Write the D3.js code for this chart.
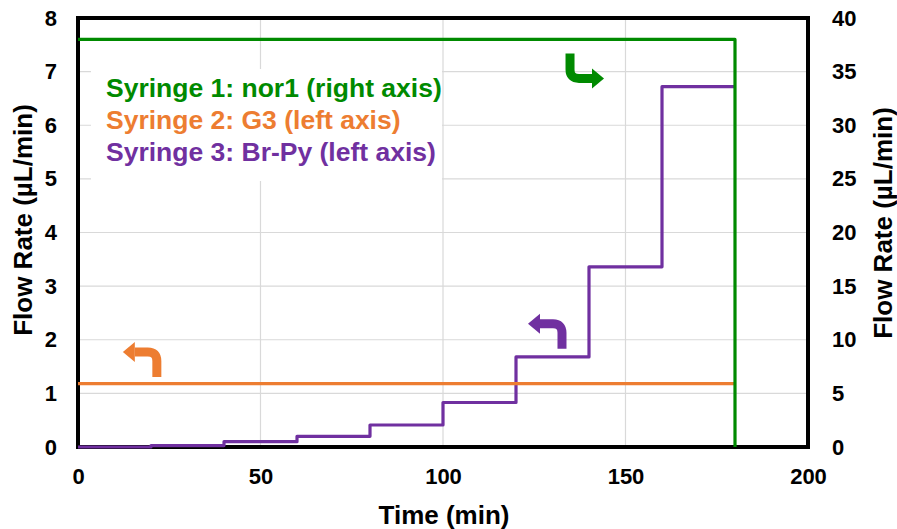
<!DOCTYPE html>
<html>
<head>
<meta charset="utf-8">
<script src="https://cdn.jsdelivr.net/npm/d3@7/dist/d3.min.js"></script>
<style>
  html, body { margin: 0; padding: 0; background: #fff; }
  svg { display: block; font-family: "Liberation Sans", Arial, sans-serif; font-weight: bold; }
</style>
</head>
<body>
<svg id="chart" width="897" height="529"></svg>
<script>
// Start time (min) of each 20-min Br-Py step; the last step ends at 180 min
const stepTimes = [0, 20, 40, 60, 80, 100, 120, 140, 160];
const stepEnd = 180;
// Syringe 3 (Br-Py) flow rate for each step, µL/min (left axis)
const brPyRates = [0, 0.026, 0.1, 0.2, 0.41, 0.83, 1.68, 3.36, 6.72];
// Syringe 2 (G3) constant flow rate, µL/min (left axis)
const g3Times = [0, 180];
const g3Rates = [1.18, 1.18];
// Syringe 1 (nor1) flow rate, µL/min (right axis), stopped at 180 min
const nor1Times = [0, 180, 180];
const nor1Rates = [38, 38, 0];

const xTicks = [0, 50, 100, 150, 200];
const leftTicks = [0, 1, 2, 3, 4, 5, 6, 7, 8];
const rightTicks = [0, 5, 10, 15, 20, 25, 30, 35, 40];

const legendLabels = ["Syringe 1: nor1 (right axis)", "Syringe 2: G3 (left axis)", "Syringe 3: Br-Py (left axis)"];
const colors = { nor1: "#008a00", g3: "#ED7D31", brPy: "#7030A0" };
const legendColors = [colors.nor1, colors.g3, colors.brPy];

// Axis-pointing arrows: stem end at (t, value on the given axis)
const arrows = [
  { t: 21.6, v: 1.305, axis: "left", vert: -1, horiz: -1, color: colors.g3 },
  { t: 132.6, v: 1.83, axis: "left", vert: -1, horiz: -1, color: colors.brPy },
  { t: 134.8, v: 36.7, axis: "right", vert: 1, horiz: 1, color: colors.nor1 }
];

const svg = d3.select("#chart");
const L = 78, R = 808, T = 18, B = 447;

const x = d3.scaleLinear().domain([0, 200]).range([L, R]);
const yL = d3.scaleLinear().domain([0, 8]).range([B, T]);
const yR = d3.scaleLinear().domain([0, 40]).range([B, T]);

// gridlines
const grid = svg.append("g").attr("stroke", "#d9d9d9").attr("stroke-width", 1.2);
grid.selectAll("line.h").data(leftTicks.filter(d => d > 0 && d < 8)).join("line")
  .attr("x1", L).attr("x2", R).attr("y1", d => yL(d)).attr("y2", d => yL(d));
grid.selectAll("line.v").data(xTicks.filter(d => d > 0 && d < 200)).join("line")
  .attr("y1", T).attr("y2", B).attr("x1", d => x(d)).attr("x2", d => x(d));

// legend backdrop
svg.append("rect").attr("x", 91).attr("y", 69).attr("width", 351).attr("height", 112).attr("fill", "#fff");

// frame
svg.append("rect").attr("x", L).attr("y", T).attr("width", R - L).attr("height", B - T)
  .attr("fill", "none").attr("stroke", "#000").attr("stroke-width", 4);

// series (drawn over the frame)
const stepLine = d3.line().curve(d3.curveStepAfter);
const brPyPts = stepTimes.map((t, i) => [x(t), yL(brPyRates[i])]);
brPyPts.push([x(stepEnd), yL(brPyRates[brPyRates.length - 1])]);
svg.append("path").attr("d", stepLine(brPyPts)).attr("fill", "none")
  .attr("stroke", colors.brPy).attr("stroke-width", 3.2).attr("stroke-linejoin", "round");

svg.append("path").attr("d", d3.line()(g3Times.map((t, i) => [x(t), yL(g3Rates[i])])))
  .attr("fill", "none").attr("stroke", colors.g3).attr("stroke-width", 3.2);

svg.append("path").attr("d", d3.line()(nor1Times.map((t, i) => [x(t), yR(nor1Rates[i])])))
  .attr("fill", "none").attr("stroke", colors.nor1).attr("stroke-width", 3.2).attr("stroke-linejoin", "round");

// axes (tick labels only; the frame forms the axis lines)
const fs = 22;
const axL = svg.append("g").attr("transform", `translate(${L - 8},0)`)
  .call(d3.axisLeft(yL).tickValues(leftTicks).tickSize(0).tickPadding(13));
const axR = svg.append("g").attr("transform", `translate(${R + 10},0)`)
  .call(d3.axisRight(yR).tickValues(rightTicks).tickSize(0).tickPadding(14));
const axB = svg.append("g").attr("transform", `translate(0,${B + 10})`)
  .call(d3.axisBottom(x).tickValues(xTicks).tickSize(0).tickPadding(11));
[axL, axR, axB].forEach(a => {
  a.select(".domain").remove();
  a.selectAll("text").attr("font-family", "Liberation Sans, Arial, sans-serif")
    .attr("font-weight", "bold").attr("font-size", fs).attr("fill", "#000");
});

// axis titles
svg.append("text").attr("transform", "translate(32,220) rotate(-90)").attr("text-anchor", "middle")
  .attr("font-size", 26).text("Flow Rate (µL/min)");
svg.append("text").attr("transform", "translate(892,223) rotate(-90)").attr("text-anchor", "middle")
  .attr("font-size", 26).text("Flow Rate (µL/min)");
svg.append("text").attr("x", 444).attr("y", 524).attr("text-anchor", "middle")
  .attr("font-size", 26).text("Time (min)");

// legend
svg.selectAll("text.leg").data(legendLabels).join("text").attr("class", "leg")
  .attr("x", 106).attr("y", (d, i) => 97 + i * 32).attr("font-size", 26.5)
  .attr("fill", (d, i) => legendColors[i]).text(d => d);

// arrows
arrows.forEach(a => {
  const sx = x(a.t), sy = (a.axis === "left" ? yL : yR)(a.v);
  const hy = sy + a.vert * 25;        // height of the bend line
  const r = 9, headLen = 12, headHalf = 10;
  const tipX = sx + a.horiz * 34;
  const baseX = tipX - a.horiz * headLen;
  const p = d3.path();
  p.moveTo(sx, sy);
  p.lineTo(sx, hy - a.vert * r);
  p.quadraticCurveTo(sx, hy, sx + a.horiz * r, hy);
  p.lineTo(baseX, hy);
  svg.append("path").attr("d", p.toString()).attr("fill", "none")
    .attr("stroke", a.color).attr("stroke-width", 9);
  svg.append("path")
    .attr("d", d3.line()([[tipX, hy], [baseX, hy - headHalf], [baseX, hy + headHalf]]) + "Z")
    .attr("fill", a.color);
});
</script>
</body>
</html>
